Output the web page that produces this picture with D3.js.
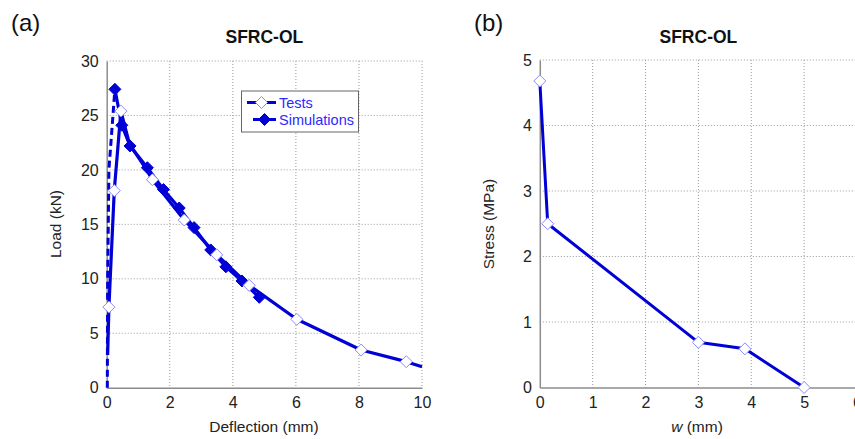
<!DOCTYPE html>
<html>
<head>
<meta charset="utf-8">
<script src="https://cdn.jsdelivr.net/npm/d3@7"></script>
<style>
  body { margin: 0; background: #fff; }
  svg { font-family: "Liberation Sans", Arial, sans-serif; }
</style>
</head>
<body>
<svg width="855" height="439"></svg>
<script>
// panel (a): load vs deflection
const testX = [0.03, 0.07, 0.24, 0.45, 0.72, 1.2, 1.45, 2.46, 3.49, 4.52, 6.03, 8.07, 9.5, 10.0];
const testY = [3.0, 7.4, 18.1, 25.4, 22.4, 20.3, 19.1, 15.4, 12.2, 9.4, 6.28, 3.46, 2.39, 1.93];
const testMark = [false, true, true, true, false, false, true, true, true, true, true, true, true, false];

const simRiseX = [0.02, 0.03, 0.07, 0.26];
const simRiseY = [0.0, 10.0, 20.0, 27.4];
const simX = [0.26, 0.48, 0.74, 1.29, 1.8, 2.3, 2.77, 3.3, 3.78, 4.29, 4.84];
const simY = [27.4, 24.1, 22.2, 20.2, 18.2, 16.5, 14.7, 12.65, 11.1, 9.8, 8.3];

const aXTicks = [0, 2, 4, 6, 8, 10];
const aYTicks = [0, 5, 10, 15, 20, 25, 30];

// panel (b): stress vs crack opening
const wX = [0.0, 0.15, 3.0, 3.88, 5.0];
const stressY = [4.68, 2.5, 0.69, 0.59, 0.0];
const bXTicks = [0, 1, 2, 3, 4, 5, 6];
const bYTicks = [0, 1, 2, 3, 4, 5];

const svg = d3.select("svg");
const blue = "#0000d6";
const gridColor = "#9a9a9a";
const axisColor = "#8c8c8c";

function diamond(g, x, y, filled) {
  const r = 6;
  g.append("path")
    .attr("d", `M${x},${y - r}L${x + r},${y}L${x},${y + r}L${x - r},${y}Z`)
    .attr("fill", filled ? blue : "#fff")
    .attr("stroke", filled ? blue : "#8a8aff")
    .attr("stroke-width", 1);
}

function panel(opts) {
  const x = d3.scaleLinear().domain(opts.xDomain).range([opts.left, opts.right]);
  const y = d3.scaleLinear().domain(opts.yDomain).range([opts.bottom, opts.top]);
  const g = svg.append("g");

  // grid
  g.selectAll(".vg").data(opts.xTicks.filter(d => d > opts.xDomain[0]))
    .join("line")
      .attr("x1", d => x(d)).attr("x2", d => x(d))
      .attr("y1", opts.top).attr("y2", opts.bottom)
      .attr("stroke", gridColor).attr("stroke-dasharray", "1,2");
  g.selectAll(".hg").data(opts.yTicks.filter(d => d > opts.yDomain[0]))
    .join("line")
      .attr("x1", opts.left).attr("x2", opts.right)
      .attr("y1", d => y(d)).attr("y2", d => y(d))
      .attr("stroke", gridColor).attr("stroke-dasharray", "1,2");

  // axes
  const ax = g.append("g").attr("transform", `translate(0,${opts.bottom})`)
    .call(d3.axisBottom(x).tickValues(opts.xTicks).tickFormat(d3.format("d")).tickSize(0).tickPadding(9));
  const ay = g.append("g").attr("transform", `translate(${opts.left},0)`)
    .call(d3.axisLeft(y).tickValues(opts.yTicks).tickFormat(d3.format("d")).tickSize(0).tickPadding(8));
  [ax, ay].forEach(a => {
    a.select(".domain").attr("stroke", axisColor).attr("stroke-width", 1.5);
    a.selectAll("text").attr("font-size", 16).attr("fill", "#222")
      .attr("font-family", "Liberation Sans, Arial, sans-serif");
  });

  // title
  g.append("text")
    .attr("x", (opts.left + opts.right) / 2).attr("y", 43)
    .attr("text-anchor", "middle").attr("font-size", 17.5).attr("font-weight", "bold")
    .attr("fill", "#111")
    .text("SFRC-OL");
  g.append("text")
    .attr("x", opts.tagX).attr("y", 31).attr("font-size", 24).attr("fill", "#111")
    .text(opts.tag);

  return { x, y, g };
}

// ---------- (a)
const A = panel({
  left: 106.7, right: 422, top: 61, bottom: 387.7,
  xDomain: [0, 10], yDomain: [0, 30],
  xTicks: aXTicks, yTicks: aYTicks,
  tag: "(a)", tagX: 11
});

A.g.append("text")
  .attr("x", 264).attr("y", 432).attr("text-anchor", "middle")
  .attr("font-size", 15.5).attr("fill", "#222").text("Deflection (mm)");
A.g.append("text")
  .attr("transform", "translate(61,224) rotate(-90)")
  .attr("text-anchor", "middle").attr("font-size", 15.5).attr("fill", "#222")
  .text("Load (kN)");

const lineA = d3.line().x(d => A.x(d[0])).y(d => A.y(d[1]));

A.g.append("path")
  .attr("d", lineA(d3.zip(simRiseX, simRiseY)))
  .attr("fill", "none").attr("stroke", blue).attr("stroke-width", 3)
  .attr("stroke-dasharray", "7,4");

A.g.append("path")
  .attr("d", lineA(d3.zip(testX, testY)))
  .attr("fill", "none").attr("stroke", blue).attr("stroke-width", 3.2)
  .attr("stroke-linejoin", "round");

A.g.append("path")
  .attr("d", lineA(d3.zip(simX, simY)))
  .attr("fill", "none").attr("stroke", blue).attr("stroke-width", 3.2)
  .attr("stroke-linejoin", "round");

simX.forEach((v, i) => diamond(A.g, A.x(v), A.y(simY[i]), true));
testX.forEach((v, i) => { if (testMark[i]) diamond(A.g, A.x(v), A.y(testY[i]), false); });

// legend
const leg = A.g.append("g");
leg.append("rect").attr("x", 241.5).attr("y", 91).attr("width", 117).attr("height", 41)
  .attr("fill", "#fff").attr("stroke", "#666").attr("stroke-width", 1);
leg.append("line").attr("x1", 247).attr("x2", 276).attr("y1", 102.5).attr("y2", 102.5)
  .attr("stroke", blue).attr("stroke-width", 3);
diamond(leg, 261.5, 102.5, false);
leg.append("line").attr("x1", 253).attr("x2", 276).attr("y1", 119.5).attr("y2", 119.5)
  .attr("stroke", blue).attr("stroke-width", 3);
diamond(leg, 264.5, 119.5, true);
leg.append("text").attr("x", 279).attr("y", 108).attr("font-size", 14.5)
  .attr("fill", "#2a2aff").text("Tests");
leg.append("text").attr("x", 279).attr("y", 125).attr("font-size", 14.5)
  .attr("fill", "#2a2aff").text("Simulations");

// ---------- (b)
const B = panel({
  left: 539.8, right: 857, top: 60, bottom: 387.5,
  xDomain: [0, 6], yDomain: [0, 5],
  xTicks: bXTicks, yTicks: bYTicks,
  tag: "(b)", tagX: 474
});

const wl = B.g.append("text")
  .attr("x", 697).attr("y", 432).attr("text-anchor", "middle")
  .attr("font-size", 15.5).attr("fill", "#222");
wl.append("tspan").attr("font-style", "italic").text("w");
wl.append("tspan").text(" (mm)");
B.g.append("text")
  .attr("transform", "translate(494,224) rotate(-90)")
  .attr("text-anchor", "middle").attr("font-size", 15.5).attr("fill", "#222")
  .text("Stress (MPa)");

B.g.append("path")
  .attr("d", d3.line().x(d => B.x(d[0])).y(d => B.y(d[1]))(d3.zip(wX, stressY)))
  .attr("fill", "none").attr("stroke", blue).attr("stroke-width", 3)
  .attr("stroke-linejoin", "round");
wX.forEach((v, i) => diamond(B.g, B.x(v), B.y(stressY[i]), false));
</script>
</body>
</html>
